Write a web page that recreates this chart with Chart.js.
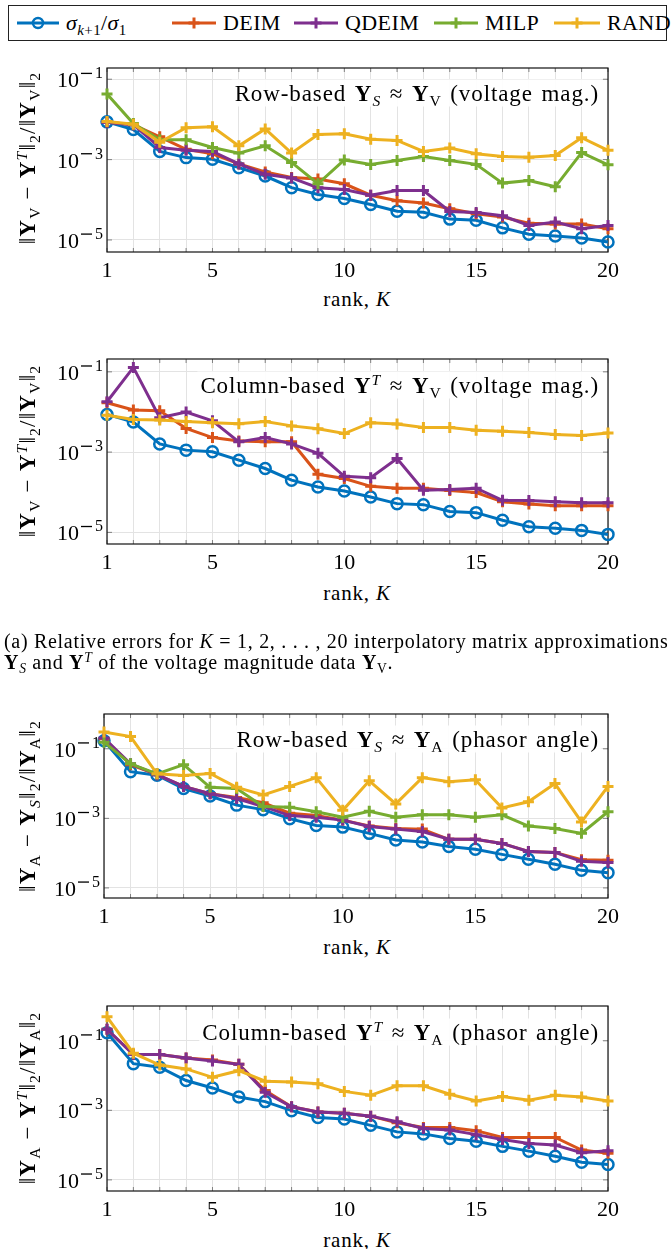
<!DOCTYPE html>
<html>
<head>
<meta charset="utf-8">
<script src="https://cdn.jsdelivr.net/npm/chart.js@4.4.1/dist/chart.umd.min.js"></script>
<style>
  html, body { margin: 0; padding: 0; background: #fff; }
  body { width: 671px; height: 1249px; position: relative; overflow: hidden;
         font-family: "Liberation Serif", "Times New Roman", serif; color: #000; }
  canvas { position: absolute; left: 0; }
  .t { position: absolute; white-space: nowrap; line-height: 1; }
  .yt { transform: translate(-50%, -50%) rotate(-90deg); font-size: 23px; letter-spacing: 1.2px; }
  .xt { transform: translate(-50%, -50%); font-size: 21px; letter-spacing: 0.8px; }
  .ann { transform: translate(-100%, -50%); font-size: 23px; letter-spacing: 0.9px; word-spacing: 2px;
         background: rgba(255,255,255,0.9); padding: 2px 3px; }
  sub, sup { font-size: 0.68em; line-height: 0; position: relative; vertical-align: baseline; }
  sub { top: 0.32em; }
  sup { top: -0.5em; }
  #legend { position: absolute; left: 8px; top: 5px; width: 657px; height: 34px;
            border: 1.3px solid #222; background: #fff; }
  .li { position: absolute; top: 0; height: 34px; display: flex; align-items: center;
        font-size: 22px; letter-spacing: 0.4px; }
  .li svg { margin-right: 7px; }
  .cap { position: absolute; left: 4px; font-size: 20px; letter-spacing: 0.7px; white-space: nowrap;
         line-height: 1; transform: translateY(-50%); }
</style>
</head>
<body>

<div id="legend">
  <div class="li" style="left:8px"><svg width="42" height="14"><line x1="0" y1="7" x2="42" y2="7" stroke="#0072BD" stroke-width="3"/><circle cx="21" cy="7" r="5" fill="none" stroke="#0072BD" stroke-width="2.5"/></svg><span><i>σ</i><sub><i>k</i>+1</sub>/<i>σ</i><sub>1</sub></span></div>
  <div class="li" style="left:163px"><svg width="44" height="14"><line x1="0" y1="7" x2="44" y2="7" stroke="#D95319" stroke-width="3"/><path d="M22 1.5v11M16.5 7h11" stroke="#D95319" stroke-width="3"/></svg><span>DEIM</span></div>
  <div class="li" style="left:285px"><svg width="44" height="14"><line x1="0" y1="7" x2="44" y2="7" stroke="#7E2F8E" stroke-width="3"/><path d="M22 1.5v11M16.5 7h11" stroke="#7E2F8E" stroke-width="3"/></svg><span>QDEIM</span></div>
  <div class="li" style="left:425px"><svg width="44" height="14"><line x1="0" y1="7" x2="44" y2="7" stroke="#77AC30" stroke-width="3"/><path d="M22 1.5v11M16.5 7h11" stroke="#77AC30" stroke-width="3"/></svg><span>MILP</span></div>
  <div class="li" style="left:545px"><svg width="46" height="14"><line x1="0" y1="7" x2="46" y2="7" stroke="#EDB120" stroke-width="3"/><path d="M23 1.5v11M17.5 7h11" stroke="#EDB120" stroke-width="3"/></svg><span>RAND</span></div>
</div>

<canvas id="c1"></canvas>
<canvas id="c2"></canvas>
<canvas id="c3"></canvas>
<canvas id="c4"></canvas>

<div class="t yt" style="left:27px;top:158px">‖<b>Y</b><sub>V</sub> − <b>Y</b><sup><i>T</i></sup>‖<sub>2</sub>/‖<b>Y</b><sub>V</sub>‖<sub>2</sub></div>
<div class="t yt" style="left:27px;top:451px">‖<b>Y</b><sub>V</sub> − <b>Y</b><sup><i>T</i></sup>‖<sub>2</sub>/‖<b>Y</b><sub>V</sub>‖<sub>2</sub></div>
<div class="t yt" style="left:27px;top:806px">‖<b>Y</b><sub>A</sub> − <b>Y</b><sub><i>S</i></sub>‖<sub>2</sub>/‖<b>Y</b><sub>A</sub>‖<sub>2</sub></div>
<div class="t yt" style="left:27px;top:1098px">‖<b>Y</b><sub>A</sub> − <b>Y</b><sup><i>T</i></sup>‖<sub>2</sub>/‖<b>Y</b><sub>A</sub>‖<sub>2</sub></div>

<div class="t xt" style="left:357px;top:299px">rank, <i>K</i></div>
<div class="t xt" style="left:357px;top:593px">rank, <i>K</i></div>
<div class="t xt" style="left:357px;top:947px">rank, <i>K</i></div>
<div class="t xt" style="left:357px;top:1240px">rank, <i>K</i></div>

<div class="t ann" style="left:602px;top:93px">Row-based <b>Y</b><sub><i>S</i></sub> ≈ <b>Y</b><sub>V</sub> (voltage mag.)</div>
<div class="t ann" style="left:602px;top:385px">Column-based <b>Y</b><sup><i>T</i></sup> ≈ <b>Y</b><sub>V</sub> (voltage mag.)</div>
<div class="t ann" style="left:602px;top:739px">Row-based <b>Y</b><sub><i>S</i></sub> ≈ <b>Y</b><sub>A</sub> (phasor angle)</div>
<div class="t ann" style="left:602px;top:1032px">Column-based <b>Y</b><sup><i>T</i></sup> ≈ <b>Y</b><sub>A</sub> (phasor angle)</div>

<div class="cap" style="top:641px">(a) Relative errors for <i>K</i> = 1, 2, . . . , 20 interpolatory matrix approximations</div>
<div class="cap" style="top:662px"><b>Y</b><sub><i>S</i></sub> and <b>Y</b><sup><i>T</i></sup> of the voltage magnitude data <b>Y</b><sub>V</sub>.</div>

<script>
// rank axis and tick labels
const ranks = [1, 2, 3, 4, 5, 6, 7, 8, 9, 10, 11, 12, 13, 14, 15, 16, 17, 18, 19, 20];
const rankLabels = [1, 5, 10, 15, 20];
const yTickValues = [1e-1, 1e-3, 1e-5];
const yTickExps = ['1', '3', '5'];

// voltage magnitude
const sigmaV = [8.7e-3, 5.6e-3, 1.6e-3, 1.12e-3, 1.02e-3, 6.3e-4, 3.9e-4, 2.0e-4, 1.35e-4, 1.07e-4, 7.6e-5, 5.2e-5, 4.9e-5, 3.3e-5, 3.1e-5, 2.0e-5, 1.38e-5, 1.26e-5, 1.12e-5, 8.9e-6];
const vRowDeim = [8.5e-3, 7.4e-3, 3.7e-3, 1.8e-3, 1.4e-3, 7.8e-4, 4.9e-4, 3.6e-4, 3.3e-4, 2.5e-4, 1.3e-4, 9.5e-5, 8.3e-5, 6.0e-5, 4.5e-5, 3.7e-5, 2.6e-5, 2.5e-5, 2.5e-5, 1.9e-5];
const vRowQdeim = [8.5e-3, 7.4e-3, 2.0e-3, 1.7e-3, 1.6e-3, 7.8e-4, 4.3e-4, 3.5e-4, 2.0e-4, 1.8e-4, 1.3e-4, 1.7e-4, 1.7e-4, 5.1e-5, 4.8e-5, 4.0e-5, 2.3e-5, 2.8e-5, 1.9e-5, 2.3e-5];
const vRowMilp = [4.3e-2, 7.9e-3, 3.1e-3, 3.1e-3, 2.0e-3, 1.45e-3, 2.2e-3, 8.5e-4, 2.5e-4, 9.8e-4, 7.6e-4, 9.5e-4, 1.2e-3, 9.5e-4, 7.6e-4, 2.6e-4, 3.0e-4, 2.1e-4, 1.5e-3, 7.4e-4];
const vRowRand = [8.9e-3, 7.6e-3, 2.7e-3, 6.2e-3, 6.6e-3, 2.2e-3, 5.8e-3, 1.45e-3, 4.2e-3, 4.4e-3, 3.2e-3, 3.0e-3, 1.6e-3, 1.95e-3, 1.4e-3, 1.2e-3, 1.15e-3, 1.26e-3, 3.5e-3, 1.7e-3];
const vColDeim = [1.7e-2, 1.12e-2, 1.07e-2, 3.9e-3, 2.3e-3, 1.9e-3, 1.8e-3, 1.8e-3, 2.8e-4, 2.2e-4, 1.4e-4, 1.26e-4, 1.26e-4, 1.1e-4, 9.8e-5, 5.8e-5, 5.1e-5, 4.6e-5, 4.6e-5, 4.6e-5];
const vColQdeim = [1.8e-2, 1.29e-1, 7.2e-3, 1.0e-2, 6.0e-3, 1.8e-3, 2.3e-3, 1.6e-3, 9.3e-4, 2.5e-4, 2.3e-4, 6.9e-4, 1.12e-4, 1.17e-4, 1.26e-4, 6.3e-5, 6.2e-5, 5.8e-5, 5.5e-5, 5.5e-5];
const vColRand = [8.3e-3, 6.5e-3, 6.3e-3, 5.8e-3, 5.4e-3, 5.1e-3, 5.8e-3, 4.5e-3, 3.8e-3, 2.9e-3, 5.4e-3, 5.0e-3, 4.1e-3, 4.1e-3, 3.5e-3, 3.3e-3, 3.1e-3, 2.75e-3, 2.6e-3, 3.0e-3];

// phasor angle
const sigmaA = [0.17, 2.2e-2, 1.74e-2, 7.2e-3, 4.4e-3, 2.4e-3, 1.78e-3, 9.8e-4, 6.2e-4, 5.6e-4, 3.7e-4, 2.4e-4, 2.1e-4, 1.55e-4, 1.29e-4, 9.2e-5, 6.7e-5, 4.8e-5, 3.2e-5, 2.75e-5];
const aRowDeim = [0.195, 3.5e-2, 1.8e-2, 8.3e-3, 5.1e-3, 4.0e-3, 2.8e-3, 1.4e-3, 1.2e-3, 8.9e-4, 6.0e-4, 5.1e-4, 4.9e-4, 2.5e-4, 2.5e-4, 1.9e-4, 1.12e-4, 1.05e-4, 6.5e-5, 6.2e-5];
const aRowQdeim = [0.204, 3.7e-2, 1.8e-2, 8.3e-3, 5.1e-3, 3.7e-3, 2.2e-3, 1.2e-3, 1.07e-3, 8.9e-4, 5.8e-4, 4.9e-4, 4.2e-4, 2.5e-4, 2.5e-4, 1.9e-4, 1.12e-4, 1.05e-4, 5.8e-5, 5.4e-5];
const aRowMilp = [0.155, 3.7e-2, 1.9e-2, 3.5e-2, 7.8e-3, 7.2e-3, 2.2e-3, 2.1e-3, 1.55e-3, 1.07e-3, 1.6e-3, 1.07e-3, 1.26e-3, 1.26e-3, 1.07e-3, 1.26e-3, 6.0e-4, 5.1e-4, 3.7e-4, 1.55e-3];
const aRowRand = [0.302, 0.224, 1.9e-2, 1.7e-2, 1.95e-2, 7.8e-3, 4.7e-3, 8.3e-3, 1.48e-2, 1.7e-3, 1.2e-2, 2.6e-3, 1.48e-2, 1.12e-2, 1.29e-2, 2.0e-3, 3.0e-3, 1.0e-2, 7.9e-4, 8.3e-3];
const aColDeim = [0.214, 4.0e-2, 4.0e-2, 3.2e-2, 2.8e-2, 2.1e-2, 3.7e-3, 1.26e-3, 8.9e-4, 8.3e-4, 6.8e-4, 4.4e-4, 3.2e-4, 3.2e-4, 2.6e-4, 1.66e-4, 1.66e-4, 1.66e-4, 7.2e-5, 5.8e-5];
const aColQdeim = [0.214, 4.0e-2, 4.0e-2, 3.2e-2, 2.6e-2, 2.1e-2, 3.3e-3, 1.26e-3, 8.9e-4, 8.3e-4, 6.8e-4, 4.7e-4, 3.0e-4, 2.7e-4, 2.0e-4, 1.45e-4, 1.12e-4, 1.0e-4, 6.0e-5, 6.9e-5];
const aColRand = [0.49, 4.4e-2, 2.0e-2, 1.55e-2, 8.9e-3, 1.38e-2, 6.9e-3, 6.5e-3, 5.8e-3, 3.5e-3, 2.7e-3, 5.1e-3, 5.1e-3, 2.9e-3, 1.86e-3, 2.5e-3, 1.95e-3, 2.7e-3, 2.4e-3, 1.86e-3];

const COL = { sigma: '#0072BD', deim: '#D95319', qdeim: '#7E2F8E', milp: '#77AC30', rand: '#EDB120' };
const FONT = '"Liberation Serif", "Times New Roman", serif';
const PAD_T = 12, AX_H = 34;

function line(label, data, color, order, ring) {
  return {
    label, data, order,
    borderColor: color, backgroundColor: color, borderWidth: 3,
    pointStyle: ring ? 'circle' : 'cross',
    pointRadius: 5.5, pointBorderWidth: ring ? 2.5 : 3,
    pointBackgroundColor: ring ? 'rgba(0,0,0,0)' : color,
    pointHoverRadius: 0, tension: 0, clip: false
  };
}

// box, inward ticks and 10^n labels
const frame = {
  id: 'frame',
  beforeDatasetsDraw(chart) {
    const { ctx, chartArea: a, scales: { x, y } } = chart;
    ctx.save();
    ctx.strokeStyle = '#808080';
    ctx.lineWidth = 1;
    ctx.beginPath();
    x.ticks.forEach((t, i) => {
      const px = x.getPixelForValue(i);
      ctx.moveTo(px, a.bottom); ctx.lineTo(px, a.bottom - 4);
      ctx.moveTo(px, a.top); ctx.lineTo(px, a.top + 4);
    });
    yTickValues.forEach(v => {
      const py = y.getPixelForValue(v);
      ctx.moveTo(a.left, py); ctx.lineTo(a.left + 5, py);
      ctx.moveTo(a.right, py); ctx.lineTo(a.right - 5, py);
    });
    ctx.stroke();
    ctx.strokeStyle = '#111';
    ctx.lineWidth = 1.2;
    ctx.strokeRect(a.left, a.top, a.right - a.left, a.bottom - a.top);
    ctx.restore();
  },
  afterDraw(chart) {
    const { ctx, chartArea: a, scales: { y } } = chart;
    ctx.save();
    ctx.fillStyle = '#000';
    ctx.textBaseline = 'alphabetic';
    yTickValues.forEach((v, i) => {
      const py = y.getPixelForValue(v);
      const xr = a.left - 4;
      // exponent: long minus then digit
      ctx.font = '16px ' + FONT;
      const dw = ctx.measureText(yTickExps[i]).width;
      const dx = xr - dw;
      ctx.fillText(yTickExps[i], dx, py - 1);
      ctx.fillRect(dx - 14, py - 6.5, 11, 1.3);
      ctx.font = '22px ' + FONT;
      const bw = ctx.measureText('10').width;
      ctx.fillText('10', dx - 16 - bw, py + 8);
    });
    ctx.restore();
  }
};

const plots = [
  { id: 'c1', left: 107, right: 608, top: 68, bottom: 252, ymin: -5.30, ymax: -0.72,
    sets: [line('sigma', sigmaV, COL.sigma, 5, true), line('DEIM', vRowDeim, COL.deim, 4),
           line('QDEIM', vRowQdeim, COL.qdeim, 3), line('MILP', vRowMilp, COL.milp, 2),
           line('RAND', vRowRand, COL.rand, 1)] },
  { id: 'c2', left: 107, right: 608, top: 359, bottom: 544, ymin: -5.29, ymax: -0.68,
    sets: [line('sigma', sigmaV, COL.sigma, 5, true), line('DEIM', vColDeim, COL.deim, 4),
           line('QDEIM', vColQdeim, COL.qdeim, 3), line('RAND', vColRand, COL.rand, 1)] },
  { id: 'c3', left: 104, right: 608, top: 714, bottom: 898, ymin: -5.29, ymax: 0,
    sets: [line('sigma', sigmaA, COL.sigma, 5, true), line('DEIM', aRowDeim, COL.deim, 4),
           line('QDEIM', aRowQdeim, COL.qdeim, 3), line('MILP', aRowMilp, COL.milp, 2),
           line('RAND', aRowRand, COL.rand, 1)] },
  { id: 'c4', left: 107, right: 608, top: 1006, bottom: 1191, ymin: -5.32, ymax: 0,
    sets: [line('sigma', sigmaA, COL.sigma, 5, true), line('DEIM', aColDeim, COL.deim, 4),
           line('QDEIM', aColQdeim, COL.qdeim, 3), line('RAND', aColRand, COL.rand, 1)] }
];

plots.forEach(p => {
  const cv = document.getElementById(p.id);
  cv.width = 671;
  cv.height = PAD_T + (p.bottom - p.top) + AX_H;
  cv.style.top = (p.top - PAD_T) + 'px';
  new Chart(cv, {
    type: 'line',
    data: { labels: ranks, datasets: p.sets },
    options: {
      responsive: false,
      animation: false,
      devicePixelRatio: 1,
      layout: { padding: { top: PAD_T, right: 671 - p.right, left: 0, bottom: 0 } },
      plugins: { legend: { display: false }, tooltip: { enabled: false } },
      scales: {
        x: {
          type: 'category', offset: false,
          grid: { color: '#e3e3e3', drawTicks: false },
          border: { display: false },
          ticks: {
            autoSkip: false, maxRotation: 0, padding: 6, color: '#000',
            font: { family: FONT, size: 22 },
            callback: (v, i) => rankLabels.includes(ranks[i]) ? String(ranks[i]) : ''
          },
          afterFit: s => { s.height = AX_H; }
        },
        y: {
          type: 'logarithmic',
          min: Math.pow(10, p.ymin), max: Math.pow(10, p.ymax),
          grid: { color: '#e3e3e3', drawTicks: false },
          border: { display: false },
          ticks: { display: false },
          afterBuildTicks: s => { s.ticks = yTickValues.map(v => ({ value: v })); },
          afterFit: s => { s.width = p.left; }
        }
      }
    },
    plugins: [frame]
  });
});
</script>
</body>
</html>
